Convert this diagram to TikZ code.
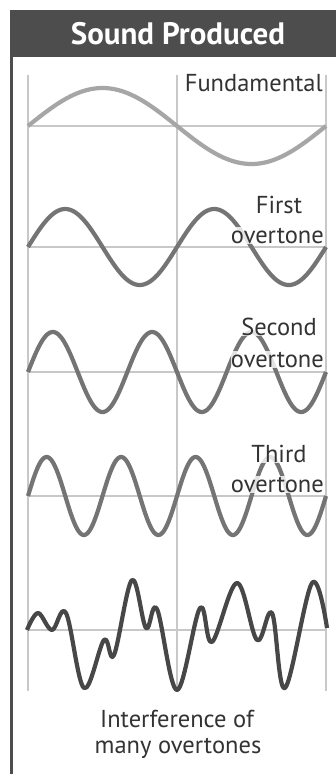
\documentclass[tikz,border=0pt]{standalone}
\usepackage{fontspec}
\setmainfont{PT Sans}
\definecolor{hdr}{HTML}{4D4D4D}
\definecolor{gridc}{HTML}{C8C8C8}
\definecolor{fundc}{HTML}{A6A6A6}
\definecolor{overc}{HTML}{747474}
\definecolor{intc}{HTML}{474747}
\definecolor{txtc}{HTML}{333333}
\begin{document}
\begin{tikzpicture}[x=1pt,y=-1pt,
  gridline/.style={draw=gridc,line width=1.4pt},
  wave/.style={line width=4.2pt,line join=round},
  lbl/.style={text=txtc,font=\fontsize{24.5}{28}\selectfont,inner xsep=0pt,inner ysep=1pt,
     fill=white,fill opacity=0.8,text opacity=1}]
\useasboundingbox (0,0) rectangle (336,774);
\fill[white] (0,0) rectangle (336,774);
% header
\fill[hdr] (10,10) rectangle (336,57);
\node[anchor=base,text=white,font=\fontsize{31}{34}\selectfont\bfseries,inner sep=0pt] (title) at (178,44) {Sound Produced};
\draw[hdr,line width=2.6pt] (11.5,57) -- (11.5,774);
% grid
\foreach \xx in {28,177,326} \draw[gridline] (\xx,75) -- (\xx,691);
\foreach \yy in {126,247,372,496,630} \draw[gridline] (28,\yy) -- (326,\yy);
% waves
\draw[wave,fundc] plot[domain=28:326,samples=150] (\x,{126-38*sin((\x-28)/298*360)});
\draw[wave,overc] plot[domain=28:326,samples=200] (\x,{247-38*sin((\x-28)/298*720)});
\draw[wave,overc] plot[domain=28:326,samples=250] (\x,{372-40*sin((\x-28)/298*1080)});
\draw[wave,overc] plot[domain=28:326,samples=300] (\x,{496-39*sin((\x-28)/298*1440)});
\draw[wave,intc] plot[smooth,tension=0.6] coordinates {(27,630) (38,613) (52,630) (66,613) (84,688) (104,640) (114,655) (132,580) (146,628) (157,609) (177,690) (200,608) (212,642) (237,583) (257,640) (272,613) (285,688) (312,583) (327,628)};
% labels
\node[lbl,anchor=base east] (fund) at (323,91) {Fundamental};
\node[lbl,anchor=base] (first) at (279,213) {First};
\node[lbl,anchor=base east] (firstb) at (324,243) {overtone};
\node[lbl,anchor=base] (second) at (279,335) {Second};
\node[lbl,anchor=base east] (secondb) at (324,367) {overtone};
\node[lbl,anchor=base] (third) at (279,462) {Third};
\node[lbl,anchor=base east] (thirdb) at (324,492) {overtone};
\node[lbl,anchor=base,fill=none] (inta) at (177,727) {Interference of};
\node[lbl,anchor=base,fill=none] (intb) at (178,753) {many overtones};
\end{tikzpicture}
\end{document}
